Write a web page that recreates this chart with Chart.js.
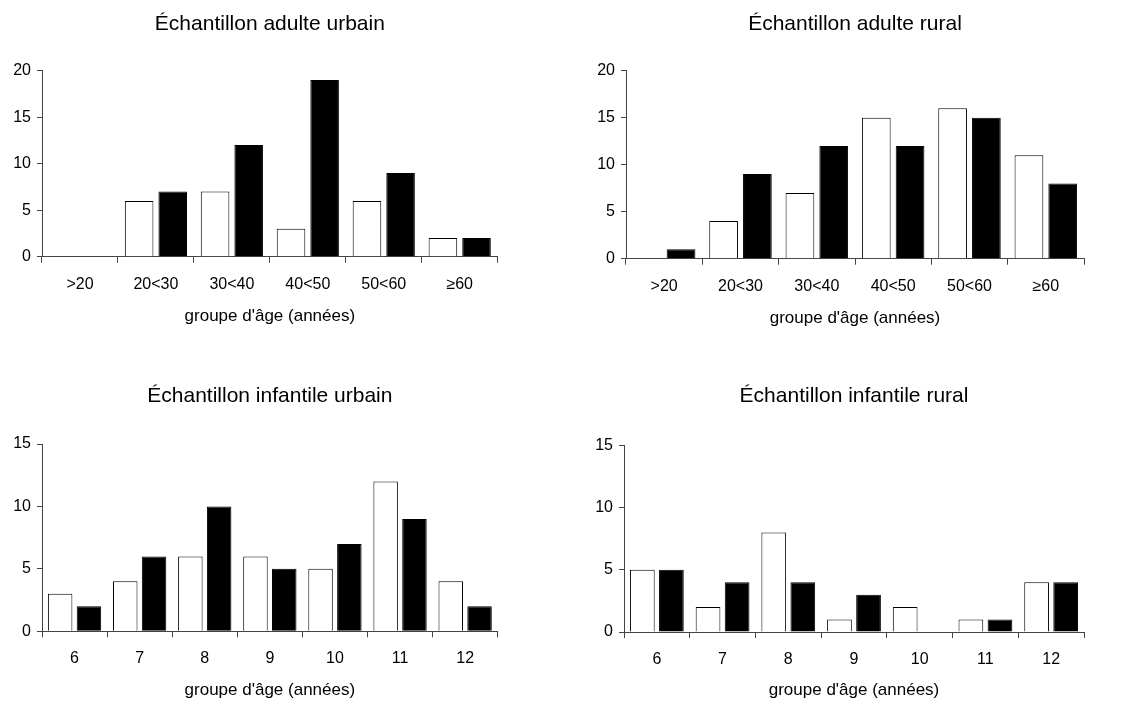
<!DOCTYPE html>
<html lang="fr">
<head>
  <meta charset="UTF-8" />
  <title>Échantillons par groupe d'âge</title>
  <script src="https://cdn.jsdelivr.net/npm/chart.js"></script>
  <style>
    html, body { margin: 0; padding: 0; background: #fff; }
    body { width: 1128px; height: 702px; position: relative; overflow: hidden; }
    canvas { position: absolute; }
  </style>
</head>
<body>
  <canvas id="adulteUrbain" width="564" height="345" style="left:0;top:0"></canvas>
  <canvas id="adulteRural" width="564" height="345" style="left:564px;top:0"></canvas>
  <canvas id="infantileUrbain" width="564" height="342" style="left:0;top:360px"></canvas>
  <canvas id="infantileRural" width="564" height="342" style="left:564px;top:360px"></canvas>

  <script>
    const categoriesAdulte = ['>20', '20<30', '30<40', '40<50', '50<60', '≥60'];
    const categoriesInfantile = ['6', '7', '8', '9', '10', '11', '12'];

    const graduationsAdulte = [0, 5, 10, 15, 20];
    const graduationsInfantile = [0, 5, 10, 15];

    // barres blanches / barres noires
    const adulteUrbainBlanc = [0, 6, 7, 3, 6, 2];
    const adulteUrbainNoir = [0, 7, 12, 19, 9, 2];
    const adulteRuralBlanc = [0, 4, 7, 15, 16, 11];
    const adulteRuralNoir = [1, 9, 12, 12, 15, 8];
    const infantileUrbainBlanc = [3, 4, 6, 6, 5, 12, 4];
    const infantileUrbainNoir = [2, 6, 10, 5, 7, 9, 2];
    const infantileRuralBlanc = [5, 2, 8, 1, 2, 1, 4];
    const infantileRuralNoir = [5, 4, 4, 3, 0, 1, 4];

    const police = 'Arial, "Liberation Sans", sans-serif';
    const couleurAxe = '#444';

    // cadre : zone du graphique dans le canvas (px)
    function creerGraphique(id, titre, categories, blanc, noir, graduations, cadre) {
      const canvas = document.getElementById(id);
      const H = canvas.height;
      const W = canvas.width;
      const lhTitre = 21 * 1.2;
      const centreTitre = cadre.ligneTitre - 7.35;
      const padHaut = centreTitre - lhTitre / 2;
      const padBas = cadre.haut - padHaut - lhTitre;

      new Chart(canvas, {
        type: 'bar',
        data: {
          labels: categories,
          datasets: [
            { data: blanc, backgroundColor: '#fff', borderColor: '#000', borderWidth: 1 },
            { data: noir, backgroundColor: '#000', borderColor: '#000', borderWidth: 1 }
          ]
        },
        options: {
          responsive: false,
          animation: false,
          categoryPercentage: 0.885,
          barPercentage: 0.85,
          layout: { padding: { left: 0, top: 0, bottom: 0, right: W - cadre.droite } },
          plugins: {
            legend: { display: false },
            tooltip: { enabled: false },
            title: {
              display: true,
              text: titre,
              fullSize: false,
              color: '#000',
              font: { family: police, size: 21, weight: 'normal' },
              padding: { top: padHaut, bottom: padBas }
            }
          },
          scales: {
            x: {
              grid: { offset: true, drawOnChartArea: false, tickLength: 6, color: couleurAxe },
              border: { color: couleurAxe },
              ticks: { color: '#000', padding: 12, font: { family: police, size: 16 } },
              title: {
                display: true,
                text: "groupe d'âge (années)",
                color: '#000',
                font: { family: police, size: 17 },
                padding: { top: 0, bottom: H - cadre.centreAxe - 17 * 1.2 / 2 }
              },
              afterFit: s => { s.height = H - cadre.bas; }
            },
            y: {
              min: graduations[0],
              max: graduations[graduations.length - 1],
              grid: { drawOnChartArea: false, tickLength: 5, color: couleurAxe },
              border: { color: couleurAxe },
              ticks: { stepSize: graduations[1] - graduations[0], color: '#000', padding: 6, font: { family: police, size: 16 } },
              afterFit: s => { s.width = cadre.gauche; }
            }
          }
        }
      });
    }

    creerGraphique('adulteUrbain', 'Échantillon adulte urbain', categoriesAdulte,
      adulteUrbainBlanc, adulteUrbainNoir, graduationsAdulte,
      { gauche: 42, droite: 497.7, haut: 70.7, bas: 256.7, ligneTitre: 31.7, centreAxe: 316.5 });

    creerGraphique('adulteRural', 'Échantillon adulte rural', categoriesAdulte,
      adulteRuralBlanc, adulteRuralNoir, graduationsAdulte,
      { gauche: 62, droite: 520, haut: 70.7, bas: 258.7, ligneTitre: 31.5, centreAxe: 318 });

    creerGraphique('infantileUrbain', 'Échantillon infantile urbain', categoriesInfantile,
      infantileUrbainBlanc, infantileUrbainNoir, graduationsInfantile,
      { gauche: 42, droite: 497.7, haut: 84, bas: 271.3, ligneTitre: 43.3, centreAxe: 330 });

    creerGraphique('infantileRural', 'Échantillon infantile rural', categoriesInfantile,
      infantileRuralBlanc, infantileRuralNoir, graduationsInfantile,
      { gauche: 60, droite: 520, haut: 85.3, bas: 272, ligneTitre: 43.3, centreAxe: 330 });
  </script>
</body>
</html>
